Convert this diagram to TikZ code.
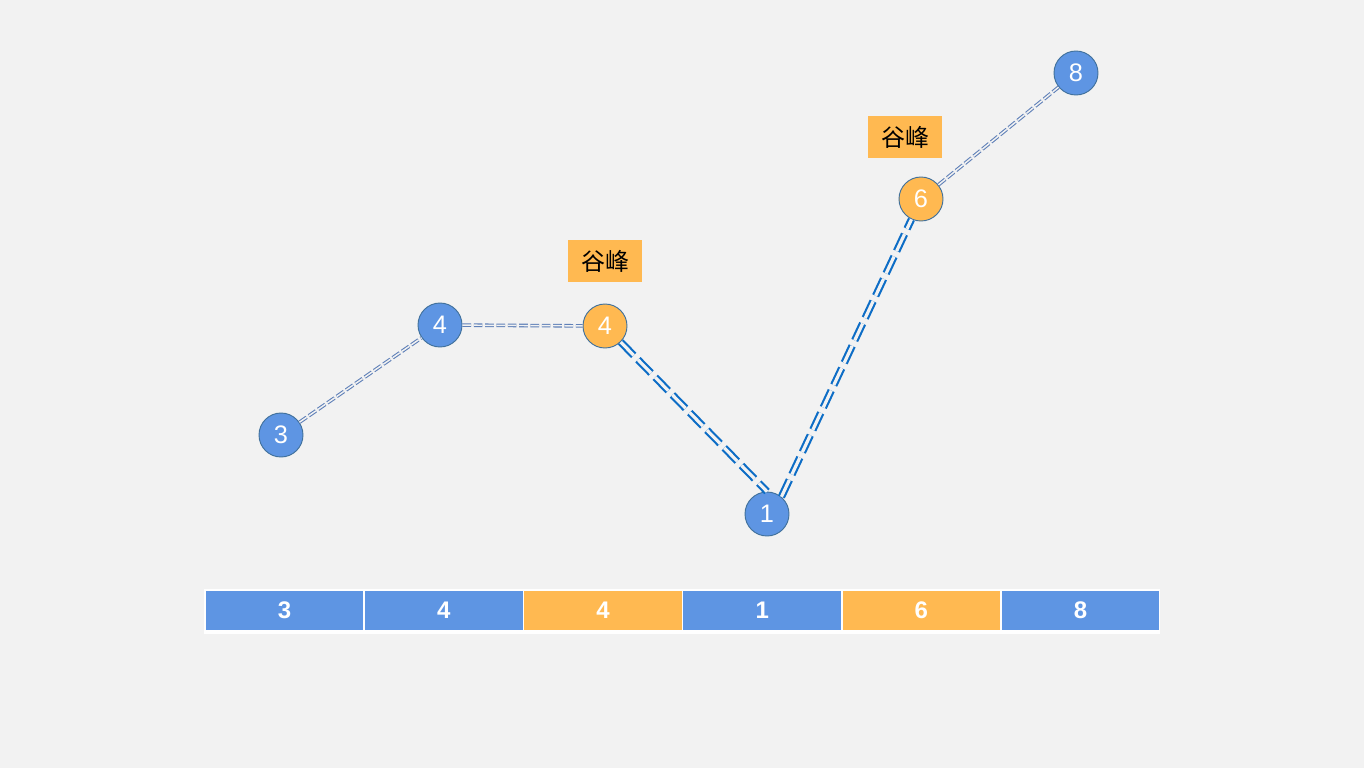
\documentclass[tikz,border=0pt]{standalone}
\usepackage{fontspec}
\setmainfont{Liberation Sans}
\newfontfamily\cjk{Noto Sans CJK SC}
\definecolor{bgGray}{HTML}{F2F2F2}
\definecolor{valBlue}{HTML}{5E95E3}
\definecolor{valOrange}{HTML}{FFB951}
\definecolor{ringBlue}{HTML}{41719C}
\definecolor{lineGray}{HTML}{5F80B8}
\definecolor{lineBlue}{HTML}{0D6DC6}
\tikzset{
	dot/.style={circle, draw=ringBlue, line width=0.7pt, minimum size=33pt, inner sep=0pt, text=white, font=\fontsize{19}{19}\selectfont},
	cell/.style={rectangle, draw=white, line width=0.75pt, minimum width=119pt, minimum height=30pt, inner sep=0pt, text=white, font=\fontsize{18}{18}\selectfont\bfseries},
	tag/.style={rectangle, fill=valOrange, minimum width=56pt, minimum height=31pt, inner sep=0pt, font=\cjk\fontsize{18}{18}\selectfont},
	thinlink/.style={draw=lineGray, double=bgGray, line width=0.8pt, double distance=1.1pt, dash pattern=on 6.5pt off 2pt},
	thicklink/.style={draw=lineBlue, double=bgGray, line width=1.6pt, double distance=2.4pt, dash pattern=on 14pt off 4.5pt}
}

\begin{document}
\begin{tikzpicture}[x=0.75pt, y=-0.75pt]
		%%%%% START %%%%%
		
		\fill[bgGray] (0, 0) rectangle (1364, 768);
		\useasboundingbox (0, 0) rectangle (1364, 768);
		
		% points
		\node[dot, fill=valBlue] (p1) at (281, 435) {3};
		\node[dot, fill=valBlue] (p2) at (440, 325) {4};
		\node[dot, fill=valOrange] (p3) at (605, 326) {4};
		\node[dot, fill=valBlue] (p4) at (767, 514) {1};
		\node[dot, fill=valOrange] (p5) at (921, 199) {6};
		\node[dot, fill=valBlue] (p6) at (1076, 73) {8};
		
		\node[tag] (t1) at (605, 261) {谷峰};
		\node[tag] (t2) at (905, 137) {谷峰};
		
		% links
		\draw[thinlink] (p1) -- (p2);
		\draw[thinlink] (p2) -- (p3);
		\draw[thicklink] (p3) -- (p4.north);
		\draw[thicklink] (p4.50) -- (p5);
		\draw[thinlink] (p5) -- (p6);
		
		% array
		\fill[white] (204, 589) rectangle (1160, 634);
		\node[cell, fill=valBlue] (c1) at (284.5, 610) {3};
		\node[cell, fill=valBlue] (c2) at (443.8, 610) {4};
		\node[cell, fill=valOrange] (c3) at (603, 610) {4};
		\node[cell, fill=valBlue] (c4) at (762.2, 610) {1};
		\node[cell, fill=valOrange] (c5) at (921.4, 610) {6};
		\node[cell, fill=valBlue] (c6) at (1080.6, 610) {8};
		
		%%%%% END %%%%%
	\end{tikzpicture}
\end{document}
